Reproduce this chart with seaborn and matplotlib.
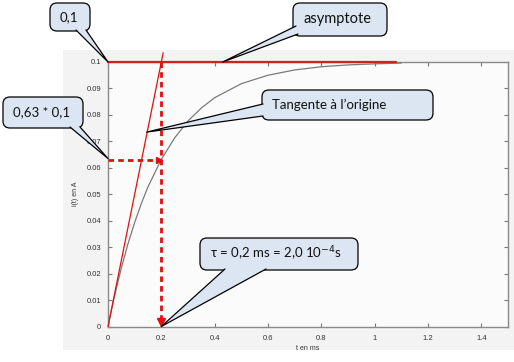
import numpy as np
import pandas as pd
import matplotlib
matplotlib.use("Agg")
import matplotlib.pyplot as plt
import seaborn as sns
from matplotlib.patches import FancyBboxPatch, Polygon, Rectangle

# courbe : i(t) en A, t en ms
t_ms = [0, 0.025, 0.05, 0.075, 0.1, 0.125, 0.15, 0.2, 0.25, 0.3, 0.35, 0.4, 0.5,
        0.6, 0.7, 0.8, 0.9, 1.0, 1.1]
i_A = [0, 0.0118, 0.0221, 0.0313, 0.0393, 0.0465, 0.0528, 0.0632, 0.0713, 0.0777,
       0.0826, 0.0865, 0.0918, 0.095, 0.097, 0.0982, 0.0989, 0.0993, 0.0996]

i_max = 0.1          # asymptote
tau = 0.2            # constante de temps (ms)
i_tau = 0.063        # 0,63 * 0,1
t_asym_end = 1.08    # fin du trait rouge de l'asymptote
tangent_t = [0, 0.207]
tangent_i = [0, 0.1035]

x_ticks = [0, 0.2, 0.4, 0.6, 0.8, 1, 1.2, 1.4]
x_labels = ["0", "0.2", "0.4", "0.6", "0.8", "1", "1.2", "1.4"]
y_ticks = [0, 0.01, 0.02, 0.03, 0.04, 0.05, 0.06, 0.07, 0.08, 0.09, 0.1]
y_labels = ["0", "0.01", "0.02", "0.03", "0.04", "0.05", "0.06", "0.07", "0.08", "0.09", "0.1"]

sns.set_style("ticks")
plt.rcParams["font.family"] = ["Lato", "DejaVu Sans"]

W, H = 514, 362
fig = plt.figure(figsize=(W / 100, H / 100), dpi=100)
fig.patch.set_facecolor("white")

# fond gris clair de la capture
fig.patches.append(Rectangle((63 / W, 1 - 350 / H), (W - 63) / W, 300 / H,
                             transform=fig.transFigure, facecolor="#f3f3f3",
                             edgecolor="none", zorder=-5))

ax = fig.add_axes([108 / W, 1 - 326.5 / H, 400 / W, 264.5 / H])
ax.set_facecolor("#fbfbfb")

df = pd.DataFrame({"t": t_ms, "i": i_A})
sns.lineplot(data=df, x="t", y="i", ax=ax, color="#7a7a7a", lw=0.9, zorder=3)

# asymptote
ax.plot([0, t_asym_end], [i_max, i_max], color="#d81e1e", lw=1.6, zorder=4, clip_on=False)
# tangente
sns.lineplot(x=tangent_t, y=tangent_i, ax=ax, color="#e01010", lw=0.9, zorder=4)
ax.lines[-1].set_clip_on(False)

# pointillés
ax.plot([tau, tau], [i_max, 0.0018], color="#e01010", lw=2, ls=(0, (2, 1.5)), zorder=5, clip_on=False)
ax.plot([tau], [0.0018], marker="v", color="#e01010", ms=6, zorder=5, clip_on=False)
ax.plot([0, tau - 0.008], [i_tau, i_tau], color="#e01010", lw=2, ls=(0, (2, 1.5)), zorder=5)
ax.plot([tau - 0.008], [i_tau], marker=">", color="#e01010", ms=5, zorder=5, clip_on=False)

ax.set_xlim(0, 1.5)
ax.set_ylim(0, 0.1)
ax.set_xticks(x_ticks)
ax.set_xticklabels(x_labels, family="Liberation Sans")
ax.set_yticks(y_ticks)
ax.set_yticklabels(y_labels, family="Liberation Sans")
ax.tick_params(direction="in", length=3, width=0.8, color="#777777", labelsize=5.5,
               labelcolor="#333333", top=True, right=True)
ax.tick_params(axis="x", pad=6)
ax.tick_params(axis="y", pad=5)
for s in ax.spines.values():
    s.set_color("#8a8a8a")
    s.set_linewidth(1.0)
ax.set_xlabel("t en ms", fontsize=5, color="#333333", labelpad=2, family="Liberation Sans")
ax.set_ylabel("i(t) en A", fontsize=5, color="#333333", labelpad=5, family="Liberation Sans")

# calque en pixels pour les bulles
ov = fig.add_axes([0, 0, 1, 1], zorder=10)
ov.set_xlim(0, W)
ov.set_ylim(H, 0)
ov.axis("off")

fig.canvas.draw()


def to_px(x, y):
    px, py = ax.transData.transform((x, y))
    return px, H - py


def bubble(x0, y0, x1, y1, text, base1, base2, tip, fs=9.5):
    fill = "#dce6f2"
    ov.add_patch(FancyBboxPatch((x0, y0), x1 - x0, y1 - y0,
                                boxstyle="round,pad=0,rounding_size=7",
                                facecolor=fill, edgecolor="black", lw=0.9, zorder=1))
    ov.add_patch(Polygon([base1, tip, base2], closed=True, facecolor=fill,
                         edgecolor="none", zorder=2))
    ov.plot([base1[0], tip[0], base2[0]], [base1[1], tip[1], base2[1]],
            color="black", lw=0.9, zorder=3)
    ov.text(x0 + 10, (y0 + y1) / 2, text, fontsize=fs, va="center", ha="left",
            color="#111111", zorder=4)


bubble(50, 3, 90, 31, "0,1", (76, 30), (86, 30), to_px(0, i_max))
bubble(293, 3, 387, 36, "asymptote", (296, 26), (298, 34), to_px(0.43, i_max), fs=10.5)
bubble(262, 90, 433, 120, "Tangente à l\u2019origine", (263, 104), (263, 116),
       to_px(0.145, 0.0735))
bubble(3, 97, 83, 128, "0,63 * 0,1", (70, 127), (80, 127), to_px(0, 0.0635))
bubble(200, 238, 358, 270, "\u03c4 = 0,2 ms = 2,0 10$^{-4}$s", (225, 269), (266, 269),
       to_px(tau, 0))

fig.savefig("out.png", dpi=100)
